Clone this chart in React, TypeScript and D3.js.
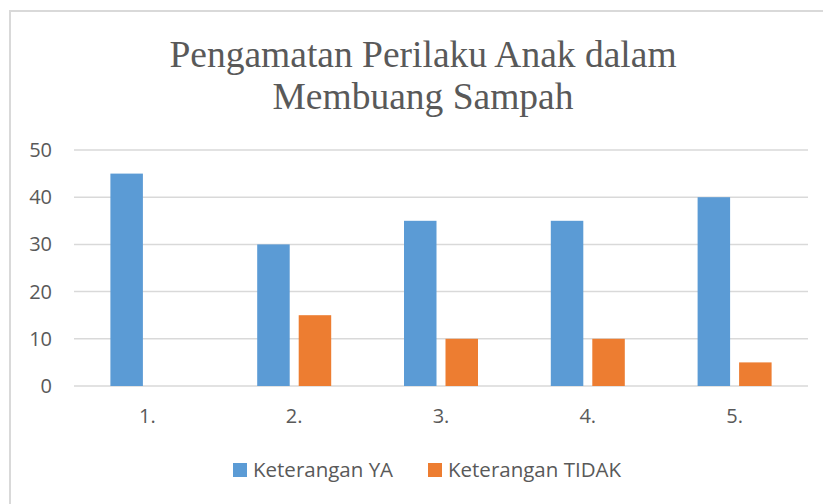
import React, { useEffect, useRef } from 'react';
import * as d3 from 'd3';

const categories = ['1.', '2.', '3.', '4.', '5.'];
const seriesNames = ['Keterangan YA', 'Keterangan TIDAK'];
const valuesYa = [45, 30, 35, 35, 40];
const valuesTidak = [0, 15, 10, 10, 5];
const yTicks = [0, 10, 20, 30, 40, 50];
const titleLines = ['Pengamatan Perilaku Anak dalam', 'Membuang Sampah'];
const colors = ['#5B9BD5', '#ED7D31'];

const App = () => {
  const svgRef = useRef<SVGSVGElement>(null);

  useEffect(() => {
    const W = 823, H = 504;
    const svg = d3.select(svgRef.current).attr('width', W).attr('height', H);
    svg.selectAll('*').remove();

    const textColor = '#595959';
    const font = '"Open Sans", sans-serif';

    // chart border (runs off the right/bottom edge)
    svg.append('rect')
      .attr('x', 10).attr('y', 11)
      .attr('width', W + 20).attr('height', H + 20)
      .attr('fill', 'white')
      .attr('stroke', '#d9d9d9').attr('stroke-width', 2);

    // title
    svg.append('g').selectAll('text')
      .data(titleLines)
      .enter().append('text')
      .attr('x', 423)
      .attr('y', (d, i) => 67 + i * 42)
      .attr('text-anchor', 'middle')
      .attr('font-family', '"Liberation Serif", "Times New Roman", serif')
      .attr('font-size', 37.5)
      .attr('fill', textColor)
      .text(d => d);

    const x = d3.scaleBand().domain(categories).range([74, 808]);
    const y = d3.scaleLinear().domain([0, 50]).range([386, 150]);

    // gridlines
    svg.append('g').selectAll('line')
      .data(yTicks)
      .enter().append('line')
      .attr('x1', 74).attr('x2', 808)
      .attr('y1', d => y(d)).attr('y2', d => y(d))
      .attr('stroke', '#d9d9d9').attr('stroke-width', 1.5);

    // y labels
    svg.append('g').selectAll('text')
      .data(yTicks)
      .enter().append('text')
      .attr('x', 52)
      .attr('y', d => y(d) + 7)
      .attr('text-anchor', 'end')
      .attr('font-family', font)
      .attr('font-size', 20)
      .attr('fill', textColor)
      .text(d => d);

    // bars
    const barW = 32.5, gap = 9;
    const x1 = d3.scaleOrdinal<number, number>()
      .domain([0, 1])
      .range([-(gap / 2 + barW), gap / 2]);

    [valuesYa, valuesTidak].forEach((vals, s) => {
      svg.append('g').selectAll('rect')
        .data(vals)
        .enter().append('rect')
        .attr('x', (d, i) => x(categories[i])! + x.bandwidth() / 2 + x1(s))
        .attr('y', d => y(d))
        .attr('width', barW)
        .attr('height', d => y(0) - y(d))
        .attr('fill', colors[s]);
    });

    // x labels
    svg.append('g').selectAll('text')
      .data(categories)
      .enter().append('text')
      .attr('x', d => x(d)! + x.bandwidth() / 2)
      .attr('y', 423)
      .attr('text-anchor', 'middle')
      .attr('font-family', font)
      .attr('font-size', 20)
      .attr('fill', textColor)
      .text(d => d);

    // legend
    const legendX = [233, 428];
    const lg = svg.append('g').selectAll('g')
      .data(seriesNames)
      .enter().append('g')
      .attr('transform', (d, i) => `translate(${legendX[i]},463)`);
    lg.append('rect')
      .attr('width', 14).attr('height', 14)
      .attr('fill', (d, i) => colors[i]);
    lg.append('text')
      .attr('x', 20).attr('y', 14)
      .attr('font-family', font)
      .attr('font-size', 20.5)
      .attr('fill', textColor)
      .text(d => d);
  }, []);

  return (
    <svg ref={svgRef} style={{ position: 'absolute', left: 0, top: 0 }}></svg>
  );
};

export default App;
